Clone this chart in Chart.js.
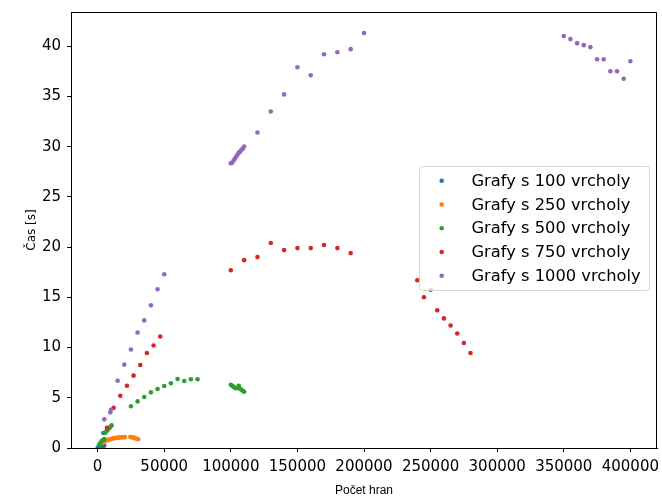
<!DOCTYPE html>
<html>
<head>
<meta charset="utf-8">
<script src="https://cdn.jsdelivr.net/npm/chart.js@4/dist/chart.umd.min.js"></script>
<style>
  html, body { margin: 0; padding: 0; background: #fff; }
</style>
</head>
<body>
<canvas id="chart" width="662" height="497"></canvas>
<script>
// Series names and colours (matplotlib tab10)
const seriesNames = ['Grafy s 100 vrcholy', 'Grafy s 250 vrcholy', 'Grafy s 500 vrcholy', 'Grafy s 750 vrcholy', 'Grafy s 1000 vrcholy'];
const colors = ['#1f77b4', '#ff7f0e', '#2ca02c', '#d62728', '#9467bd'];

// tick labels
const xTicks = [0, 50000, 100000, 150000, 200000, 250000, 300000, 350000, 400000];
const yTicks = [0, 5, 10, 15, 20, 25, 30, 35, 40];

// 100 vertices
const edges100 = [100, 400, 800, 1200, 1600, 2000, 2400, 2800, 3200, 3600, 4000, 4400, 4950, 4300];
const time100 = [0.02, 0.03, 0.05, 0.07, 0.09, 0.1, 0.12, 0.14, 0.16, 0.18, 0.2, 0.22, 0.25, 1.5];

// 250 vertices
const edges250 = [3500, 4500, 5500, 6500, 7500, 8500, 9500, 10500, 11500, 12500, 13500, 14500, 15500, 16500, 17500, 18500, 19500, 20500,
  24500, 25500, 26500, 27500, 28500, 29500, 30500];
const time250 = [0.5, 0.6, 0.68, 0.75, 0.8, 0.85, 0.88, 0.92, 0.95, 0.98, 1.0, 1.02, 1.03, 1.05, 1.06, 1.07, 1.07, 1.08,
  1.1, 1.08, 1.05, 1.01, 0.97, 0.92, 0.87];

// 500 vertices
const edges500 = [1000, 2000, 3000, 4000, 5000, 5500, 6500, 7500, 8500, 9500, 10500,
  25000, 30000, 35000, 40000, 45000, 50000, 55000, 60000, 65000, 70000, 75000,
  100000, 101000, 102000, 103000, 104000, 105000, 106000, 107000, 108000, 109000, 110000];
const time500 = [0.3, 0.5, 0.7, 0.8, 0.9, 1.5, 1.65, 1.8, 1.95, 2.1, 2.25,
  4.15, 4.64, 5.07, 5.54, 5.87, 6.17, 6.44, 6.87, 6.67, 6.84, 6.84,
  6.3, 6.2, 6.1, 6.0, 5.95, 6.0, 6.2, 5.9, 5.8, 5.7, 5.6];

// 750 vertices
const edges750 = [7000, 12000, 17000, 22000, 27000, 32000, 37000, 42000, 47000,
  100000, 110000, 120000, 130000, 140000, 150000, 160000, 170000, 180000, 190000,
  240000, 245000, 250000, 255000, 260000, 265000, 270000, 275000, 280000];
const time750 = [2.0, 4.0, 5.2, 6.2, 7.2, 8.26, 9.45, 10.2, 11.1,
  17.7, 18.7, 19.0, 20.4, 19.7, 19.9, 19.9, 20.2, 19.9, 19.4,
  16.7, 15.0, 15.75, 13.7, 12.9, 12.2, 11.4, 10.45, 9.45];

// 1000 vertices
const edges1000 = [5000, 9500, 10000, 15000, 20000, 25000, 30000, 35000, 40000, 45000, 50000,
  100000, 101000, 102000, 103000, 104000, 105000, 106000, 107000, 108000, 109000, 110000,
  120000, 130000, 140000, 150000, 160000, 170000, 180000, 190000, 200000,
  350000, 355000, 360000, 365000, 370000, 375000, 380000, 385000, 390000, 395000, 400000];
const time1000 = [2.85, 3.55, 3.8, 6.7, 8.3, 9.8, 11.5, 12.7, 14.2, 15.8, 17.3,
  28.35, 28.4, 28.6, 28.8, 29.0, 29.2, 29.4, 29.5, 29.7, 29.8, 30.0,
  31.4, 33.5, 35.2, 37.9, 37.1, 39.2, 39.4, 39.7, 41.3,
  41.0, 40.7, 40.3, 40.1, 39.9, 38.7, 38.7, 37.5, 37.5, 36.75, 38.5];

const xs = [edges100, edges250, edges500, edges750, edges1000];
const ys = [time100, time250, time500, time750, time1000];

const datasets = seriesNames.map((name, i) => ({
  label: name,
  data: xs[i].map((x, j) => ({ x: x, y: ys[i][j] })),
  backgroundColor: colors[i],
  borderWidth: 0,
  pointRadius: 2.3,
  order: 5 - i
}));

const tickFont = { family: 'DejaVu Sans', size: 15 };

// Top/right spines + legend box like matplotlib
const mplExtras = {
  id: 'mplExtras',
  afterDatasetsDraw(chart) {
    const ctx = chart.ctx;
    const a = chart.chartArea;
    ctx.save();
    ctx.strokeStyle = '#000';
    ctx.lineWidth = 1;
    ctx.beginPath();
    ctx.moveTo(Math.round(a.left) + 0.5, Math.round(a.top) + 0.5);
    ctx.lineTo(Math.round(a.right) - 0.5, Math.round(a.top) + 0.5);
    ctx.lineTo(Math.round(a.right) - 0.5, Math.round(a.bottom));
    ctx.stroke();

    // legend
    const lx = 419.5, ly = 166.5, lw = 230, lh = 124, r = 3;
    ctx.beginPath();
    ctx.moveTo(lx + r, ly);
    ctx.arcTo(lx + lw, ly, lx + lw, ly + lh, r);
    ctx.arcTo(lx + lw, ly + lh, lx, ly + lh, r);
    ctx.arcTo(lx, ly + lh, lx, ly, r);
    ctx.arcTo(lx, ly, lx + lw, ly, r);
    ctx.closePath();
    ctx.fillStyle = 'rgba(255,255,255,0.8)';
    ctx.fill();
    ctx.strokeStyle = 'rgba(204,204,204,0.8)';
    ctx.stroke();

    ctx.font = '16.3px "DejaVu Sans"';
    ctx.textBaseline = 'middle';
    chart.data.datasets.forEach((ds, i) => {
      const y = 180.7 + i * 23.75;
      ctx.fillStyle = ds.backgroundColor;
      ctx.beginPath();
      ctx.arc(441.7, y, 2.3, 0, Math.PI * 2);
      ctx.fill();
      ctx.fillStyle = '#000';
      ctx.fillText(ds.label, 471.5, y + 1);
    });
    ctx.restore();
  }
};

new Chart(document.getElementById('chart'), {
  type: 'scatter',
  data: { datasets: datasets },
  options: {
    responsive: false,
    animation: false,
    layout: { padding: { top: 12, right: 5, left: 0, bottom: 0 } },
    plugins: { legend: { display: false }, tooltip: { enabled: false } },
    scales: {
      x: {
        type: 'linear',
        min: -20000,
        max: 420000,
        afterBuildTicks: s => { s.ticks = xTicks.map(v => ({ value: v })); },
        afterFit: s => { s.height = 49; s.paddingLeft = 0; s.paddingRight = 0; },
        grid: { drawOnChartArea: false, drawTicks: true, tickLength: 4, color: '#000' },
        border: { display: true, color: '#000', width: 1 },
        ticks: {
          autoSkip: false, maxRotation: 0, minRotation: 0,
          color: '#000', font: tickFont, padding: 6,
          callback: v => String(v)
        },
        title: {
          display: true, text: 'Počet hran', color: '#000',
          font: { family: 'Liberation Sans', size: 12, lineHeight: 1 },
          padding: { top: 0, bottom: 0 }
        }
      },
      y: {
        min: 0,
        max: 43.4,
        afterBuildTicks: s => { s.ticks = yTicks.map(v => ({ value: v })); },
        afterFit: s => { s.width = 71; s.paddingTop = 0; s.paddingBottom = 0; },
        grid: { drawOnChartArea: false, drawTicks: true, tickLength: 4, color: '#000' },
        border: { display: true, color: '#000', width: 1 },
        ticks: {
          autoSkip: false,
          color: '#000', font: tickFont, padding: 6
        },
        title: {
          display: true, text: 'Čas [s]', color: '#000',
          font: { family: 'DejaVu Sans', size: 12, lineHeight: 1 },
          padding: { top: 26, bottom: 0 }
        }
      }
    }
  },
  plugins: [mplExtras]
});
</script>
</body>
</html>
